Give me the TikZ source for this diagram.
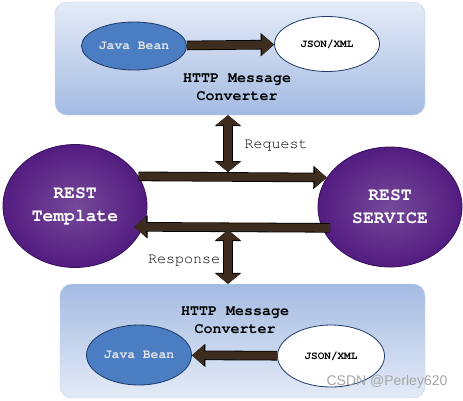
\documentclass[tikz,border=0pt]{standalone}
\usepackage[T1]{fontenc}
\usepackage{fontspec}
\setsansfont{Liberation Sans}
\usetikzlibrary{shapes.geometric,arrows.meta}

\newcommand{\courierfont}{\fontencoding{T1}\fontfamily{pcr}\selectfont}

\definecolor{boxlight}{HTML}{E4EBF7}
\definecolor{boxblue}{HTML}{A4BBE2}
\definecolor{beanblue}{HTML}{4A7DC2}
\definecolor{beanline}{HTML}{1F3A66}
\definecolor{feltpurple}{HTML}{531C80}
\definecolor{feltdark}{HTML}{36105A}
\definecolor{arrowbrown}{HTML}{3E2C1F}

\begin{document}
\begin{tikzpicture}[x=1pt, y=-1pt,
    convbox/.style={rounded corners=12pt, draw=boxblue!70!white, inner sep=0pt},
    bean/.style={ellipse, draw=beanline, line width=0.8pt, fill=beanblue, inner sep=0pt,
        text=white!90!black, font=\courierfont\bfseries\fontsize{13}{15}\selectfont},
    json/.style={ellipse, draw=beanline, line width=0.8pt, fill=white, inner sep=0pt,
        font=\courierfont\bfseries\fontsize{11}{13}\selectfont},
    felt/.style={ellipse, draw=feltdark, line width=0.8pt, inner color=feltpurple!80!white,
        outer color=feltpurple, inner sep=0pt, align=center,
        text=white, font=\courierfont\bfseries\fontsize{18}{23}\selectfont},
    convtext/.style={align=center, font=\courierfont\bfseries\fontsize{15}{18}\selectfont},
    flowtext/.style={font=\courierfont\fontsize{15}{18}\selectfont},
    fatarrow/.style={line width=8pt, draw=arrowbrown, -{Triangle[length=12pt,width=20pt]},
        preaction={draw=black, line width=9.6pt, -{Triangle[length=13.5pt,width=22.5pt]}}},
    twoway/.style={line width=8pt, draw=arrowbrown,
        {Triangle[length=10pt,width=24pt]}-{Triangle[length=10pt,width=24pt]},
        preaction={draw=black, line width=9.6pt,
        {Triangle[length=11pt,width=26pt]}-{Triangle[length=11pt,width=26pt]}}}]

    \useasboundingbox (0,0) rectangle (463,400);

    % converter boxes
    \node (topbox) [convbox, minimum width=370pt, minimum height=113pt,
        top color=boxlight, bottom color=boxblue] at (240,58.5) {};
    \node (botbox) [convbox, minimum width=365pt, minimum height=114pt,
        top color=boxblue, bottom color=boxlight] at (242.5,341) {};

    \node (topbean) [bean, minimum width=105pt, minimum height=48pt] at (134,46) {Java Bean};
    \node (topjson) [json, minimum width=105pt, minimum height=55pt] at (327,44) {JSON/XML};
    \node (topconv) [convtext] at (237,87) {HTTP Message\\Converter};

    \node (botconv) [convtext] at (235,320) {HTTP Message\\Converter};
    \node (botbean) [bean, minimum width=105pt, minimum height=60pt] at (139,355) {Java Bean};
    \node (botjson) [json, minimum width=107pt, minimum height=62pt] at (331,356) {JSON/XML};

    % client and service
    \node (tmpl) [felt, minimum width=144pt, minimum height=123pt] at (75,206) {REST\\Template};
    \node (svc) [felt, minimum width=144pt, minimum height=120pt] at (390,207) {REST\\SERVICE};

    \node (req) [flowtext] at (276,145) {Request};
    \node (resp) [flowtext] at (184,260) {Response};

    \coordinate (reqpt) at (228,172);
    \coordinate (resppt) at (228,230);

    \draw[fatarrow] (topbean) -- (topjson);
    \draw[fatarrow] (botjson) -- (botbean);

    \draw[fatarrow] (tmpl.25) -- (svc.155);
    \draw[fatarrow, shorten <=-8pt, shorten >=-9pt] (svc.197) -- (tmpl.-17);

    \draw[twoway] (reqpt |- topbox.south) -- (reqpt);
    \draw[twoway] (resppt) -- (resppt |- botbox.north);

    \node (mark) [text=gray!70, font=\sffamily\fontsize{14}{16}\selectfont] at (387,382) {CSDN @Perley620};
\end{tikzpicture}
\end{document}
